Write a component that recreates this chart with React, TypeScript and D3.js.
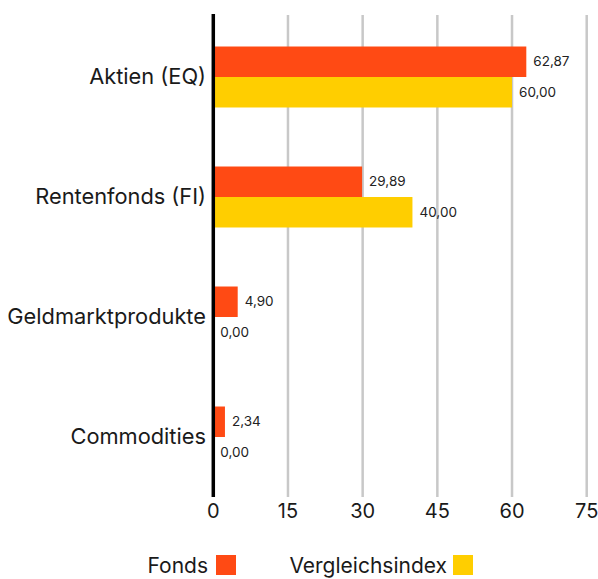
import React from "react";
import * as d3 from "d3";

const categories = ["Aktien (EQ)", "Rentenfonds (FI)", "Geldmarktprodukte", "Commodities"];
const seriesNames = ["Fonds", "Vergleichsindex"];
const fondsValues = [62.87, 29.89, 4.9, 2.34];
const indexValues = [60.0, 40.0, 0.0, 0.0];
const xTicks = [0, 15, 30, 45, 60, 75];
const colors = ["#FF4A14", "#FFCE00"];

const W = 598;
const H = 579;
const FONT = "Inter, 'Noto Sans', sans-serif";

export default function App() {
  const x = d3.scaleLinear().domain([0, 75]).range([213.3, 586.7]);
  const y = d3.scaleBand<string>().domain(categories).range([17, 497]).paddingInner(0.4917).paddingOuter(0.4917 / 2);
  const sub = d3.scaleBand<string>().domain(seriesNames).range([0, y.bandwidth()]);
  const seriesValues = [fondsValues, indexValues];
  const fmt = (v: number) => v.toFixed(2).replace(".", ",");

  return (
    <svg width={W} height={H} style={{ position: "absolute", left: 0, top: 0, background: "#fff" }} fontFamily={FONT}>
      {xTicks.slice(1).map((t) => (
        <line key={t} x1={x(t)} x2={x(t)} y1={15} y2={497} stroke="#c8c8c8" strokeWidth={2.5} />
      ))}
      {categories.map((c, i) => (
        <g key={c} transform={`translate(0,${y(c)})`}>
          {seriesNames.map((s, j) => {
            const v = seriesValues[j][i];
            const y0 = sub(s)!;
            return (
              <g key={s}>
                <rect x={x(0)} y={y0} width={x(v) - x(0)} height={sub.bandwidth()} fill={colors[j]} />
                <text x={x(v) + 7} y={y0 + sub.bandwidth() / 2} dy="0.35em" fontSize={13.5} fill="#222">
                  {fmt(v)}
                </text>
              </g>
            );
          })}
          <text x={206} y={y.bandwidth() / 2} dy="0.3em" textAnchor="end" fontSize={21.8} fill="#1a1a1a">
            {c}
          </text>
        </g>
      ))}
      <line x1={x(0)} x2={x(0)} y1={14} y2={497} stroke="#000" strokeWidth={3.5} />
      {xTicks.map((t) => (
        <text key={t} x={x(t)} y={518} textAnchor="middle" fontSize={20} fill="#1a1a1a">
          {t}
        </text>
      ))}
      <g>
        <text x={208} y={573} textAnchor="end" fontSize={21} fill="#1a1a1a">
          {seriesNames[0]}
        </text>
        <rect x={216} y={555} width={20} height={20} fill={colors[0]} />
        <text x={447} y={573} textAnchor="end" fontSize={21} fill="#1a1a1a">
          {seriesNames[1]}
        </text>
        <rect x={453} y={555} width={20} height={20} fill={colors[1]} />
      </g>
    </svg>
  );
}
